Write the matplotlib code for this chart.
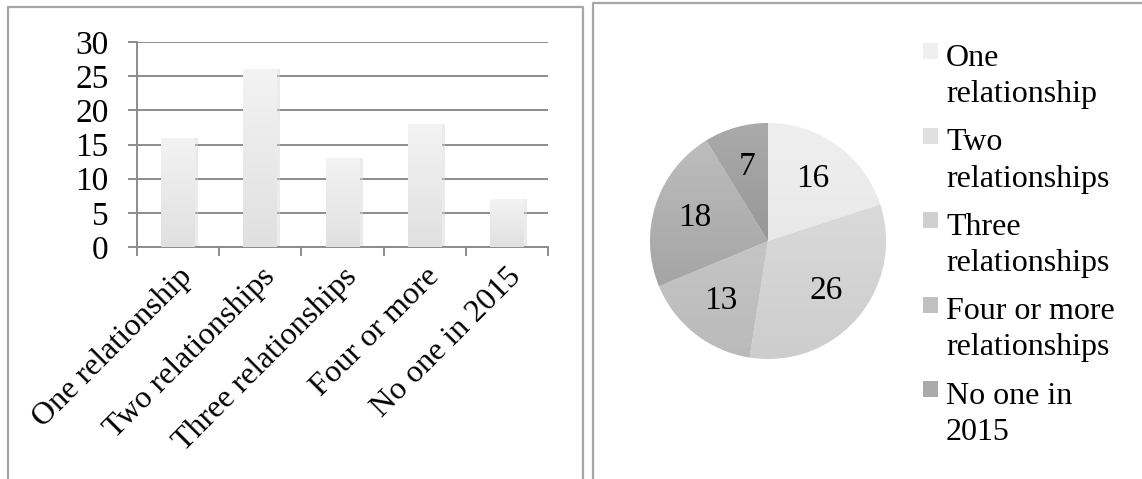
import matplotlib
matplotlib.use('Agg')
import matplotlib.pyplot as plt
import numpy as np
from matplotlib.colors import LinearSegmentedColormap
from matplotlib.patches import Rectangle
from matplotlib.lines import Line2D

plt.rcParams['font.family'] = ['Liberation Serif', 'DejaVu Serif']

categories = ['One relationship', 'Two relationships', 'Three relationships',
              'Four or more', 'No one in 2015']
legend_labels = ['One\nrelationship', 'Two\nrelationships', 'Three\nrelationships',
                 'Four or more\nrelationships', 'No one in\n2015']
counts = [16, 26, 13, 18, 7]
y_ticks = [0, 5, 10, 15, 20, 25, 30]

# light-to-dark greys for the pie slices (top / bottom of the gradient)
slice_tops = ['#efefef', '#e0e0e0', '#d0d0d0', '#c0c0c0', '#aaaaaa']
slice_bottoms = ['#e2e2e2', '#cdcdcd', '#bababa', '#989898', '#858585']

W, H = 1142, 479
GRID = '#8c8c8c'
BORDER = '#a6a6a6'


def fx(px):
    return px / W


def fy(py):
    return 1 - py / H


def gradient_fill(ax, patch, top, bottom, extent, z):
    cmap = LinearSegmentedColormap.from_list('g', [bottom, top])
    g = np.linspace(0, 1, 256).reshape(-1, 1)
    im = ax.imshow(g, extent=extent, origin='lower', cmap=cmap,
                   aspect='auto', zorder=z, interpolation='bilinear')
    im.set_clip_path(patch)


fig = plt.figure(figsize=(W / 100, H / 100), dpi=100)

# ---- bar chart ----
ax = fig.add_axes([fx(137), fy(247), (548 - 137) / W, (247 - 42) / H])
x = np.arange(len(categories))
ax.bar(x + 0.025, counts, width=0.44, color='#d4d4d4', alpha=0.45, zorder=2)
bars = ax.bar(x, counts, width=0.41, color='none', zorder=3)
for b in bars:
    x0, y0 = b.get_x(), b.get_y()
    gradient_fill(ax, b, '#f3f3f3', '#e0e0e0',
                  [x0, x0 + b.get_width(), y0, y0 + b.get_height()], 3)

ax.set_xlim(-0.5, len(categories) - 0.5)
ax.set_ylim(0, 30)
ax.set_yticks(y_ticks)
ax.set_yticklabels([str(v) for v in y_ticks], fontsize=24)
ax.yaxis.grid(True, color=GRID, lw=1.4)
ax.set_axisbelow(True)
for s in ['top', 'right']:
    ax.spines[s].set_visible(False)
for s in ['left', 'bottom']:
    ax.spines[s].set_color(GRID)
    ax.spines[s].set_linewidth(1.4)
ax.tick_params(axis='y', direction='out', length=6.5, width=1.4, color=GRID, pad=14)

ax.set_xticks(x)
ax.set_xticklabels(categories, rotation=45, ha='right', va='top',
                   rotation_mode='anchor', fontsize=23)
ax.set_xticks(np.arange(-0.5, len(categories), 1), minor=True)
ax.tick_params(axis='x', which='major', length=0, pad=11)
ax.tick_params(axis='x', which='minor', direction='out', length=6.5, width=1.4, color=GRID)

# ---- pie chart ----
R = 118
pax = fig.add_axes([fx(768 - R), fy(241 + R), 2 * R / W, 2 * R / H])
wedges, _, autotexts = pax.pie(
    counts, startangle=90, counterclock=False, colors=slice_tops,
    autopct=lambda p: f'{p * sum(counts) / 100:.0f}', pctdistance=0.65,
    wedgeprops=dict(edgecolor='white', linewidth=0.6),
    textprops=dict(fontsize=24, color='black'))
for w, t, b in zip(wedges, slice_tops, slice_bottoms):
    gradient_fill(pax, w, t, b, [-1, 1, -1, 1], 1.5)
for t in autotexts:
    t.set_zorder(5)
pax.set_xlim(-1, 1)
pax.set_ylim(-1, 1)
pax.set_aspect('equal')
pax.axis('off')

# legend drawn by hand so the marker sits on the first line
line_gap = 37
for i, lab in enumerate(legend_labels):
    base = 65 + 84.5 * i
    fig.patches.append(Rectangle((fx(923), fy(base - 6)), 15 / W, 16 / H,
                                 transform=fig.transFigure, facecolor=slice_tops[i],
                                 edgecolor='none'))
    last = base + line_gap * lab.count('\n')
    fig.text(fx(946), fy(last), lab, fontsize=23, va='baseline', ha='left',
             linespacing=1.32)

# ---- panel frames ----
fig.add_artist(Line2D([fx(8), fx(8), fx(583), fx(583)], [fy(490), fy(7), fy(7), fy(490)],
                      transform=fig.transFigure, color=BORDER, lw=1.6))
fig.add_artist(Line2D([fx(593), fx(593), fx(1150)], [fy(490), fy(3), fy(3)],
                      transform=fig.transFigure, color=BORDER, lw=1.6))

fig.savefig('out.png', dpi=100)
